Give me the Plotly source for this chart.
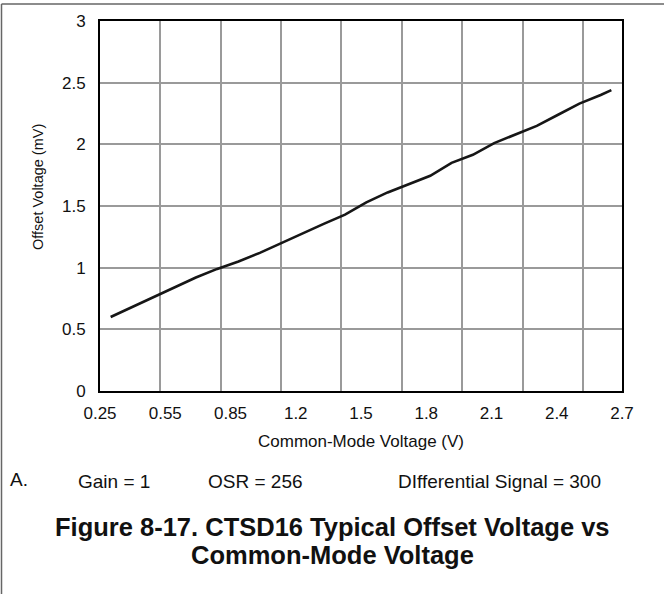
import numpy as np
import plotly.graph_objects as go

# Data
cm_voltage = [0.3, 0.4, 0.5, 0.6, 0.7, 0.8, 0.9, 1.0, 1.1, 1.2, 1.3, 1.4, 1.5,
              1.6, 1.7, 1.8, 1.9, 2.0, 2.1, 2.2, 2.3, 2.4, 2.5, 2.6, 2.65]
offset_mv = [0.60, 0.68, 0.755, 0.84, 0.92, 0.99, 1.05, 1.12, 1.20, 1.28, 1.355, 1.43, 1.53,
             1.61, 1.675, 1.745, 1.85, 1.915, 2.01, 2.08, 2.15, 2.24, 2.33, 2.40, 2.44]
x_tick_labels = ["0.25", "0.55", "0.85", "1.2", "1.5", "1.8", "2.1", "2.4", "2.7"]
note_items = ["Gain = 1", "OSR = 256", "DIfferential Signal = 300"]

X_MIN, X_MAX = 0.25, 2.7
GRID_STEP = 0.2833  # vertical gridlines don't line up with the labels in the original

W, H = 664, 594
L, R, T, B = 100, 42, 21, 203
PW, PH = W - L - R, H - T - B
FONT = "Arial, Liberation Sans, sans-serif"


def px(x, y):
    """pixel position -> paper coords"""
    return (x - L) / PW, (H - B - y) / PH


fig = go.Figure()
fig.add_trace(go.Scatter(
    x=cm_voltage, y=offset_mv, mode="lines",
    line=dict(color="#161616", width=2.6),
    showlegend=False, hoverinfo="skip",
))

axis_common = dict(
    showline=True, linecolor="black", linewidth=2, mirror=True,
    zeroline=False, ticks="outside", tickcolor="rgba(0,0,0,0)",
    tickfont=dict(size=17, color="#111"),
)

fig.update_xaxes(
    range=[X_MIN, X_MAX],
    tickmode="array",
    tickvals=list(np.linspace(X_MIN, X_MAX, len(x_tick_labels))),
    ticktext=x_tick_labels,
    ticklen=6, showgrid=False,
    minor=dict(tickmode="linear", tick0=X_MIN, dtick=GRID_STEP, showgrid=True,
               gridcolor="#9a9a9a", gridwidth=1.5, ticks=""),
    **axis_common,
)
fig.update_yaxes(
    range=[0, 3], tickmode="linear", tick0=0, dtick=0.5,
    ticklen=9, showgrid=True, gridcolor="#9a9a9a", gridwidth=1.5,
    **axis_common,
)

ann = []
x, y = px(0, 441)
ann.append(dict(x=0.5, y=y, text="Common-Mode Voltage (V)", font=dict(size=17)))
x, y = px(38, 187)
ann.append(dict(x=x, y=y, text="Offset Voltage (mV)", textangle=-90, font=dict(size=14.5)))
x, y = px(8, 479)
ann.append(dict(x=x, y=y, text="A.", xanchor="left", font=dict(size=19)))
for cx, txt in zip([114, 255, 499], note_items):
    x, y = px(cx, 481)
    ann.append(dict(x=x, y=y, text=txt, font=dict(size=19)))
for cy, txt in [(527, "Figure 8-17. CTSD16 Typical Offset Voltage vs"), (555, "Common-Mode Voltage")]:
    x, y = px(332, cy)
    ann.append(dict(x=x, y=y, text=f"<b>{txt}</b>", font=dict(size=25.5)))

for a in ann:
    a.setdefault("xanchor", "center")
    a.update(xref="paper", yref="paper", yanchor="middle", showarrow=False)
    a["font"].update(family=FONT, color="#111")

# thin page frame (top and left edges visible in the original)
x0, y0 = px(1.5, H)
x1, y1 = px(W, 4)
fig.add_shape(type="line", xref="paper", yref="paper", x0=x0, y0=y0, x1=x0, y1=y1,
              line=dict(color="#666", width=1.5))
fig.add_shape(type="line", xref="paper", yref="paper", x0=x0, y0=y1, x1=x1, y1=y1,
              line=dict(color="#666", width=1.5))

fig.update_layout(
    width=W, height=H,
    margin=dict(l=L, r=R, t=T, b=B),
    paper_bgcolor="white", plot_bgcolor="white",
    font=dict(family=FONT, color="#111"),
    annotations=ann,
)

# drop the default 8px body margin so the figure sits at the window origin
fig.write_html("out.html", config={"displayModeBar": False},
               post_script="document.body.style.margin='0';")
